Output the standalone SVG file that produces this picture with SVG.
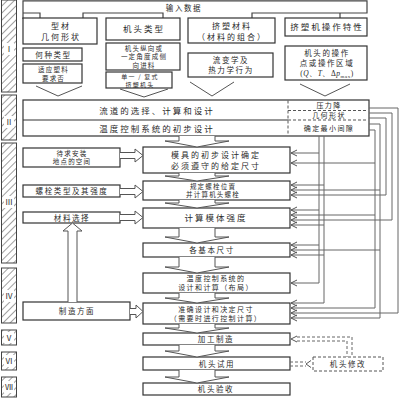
<svg xmlns="http://www.w3.org/2000/svg" width="400" height="400" viewBox="0 0 400 400">
<style>
.box{fill:#fff;stroke:#333;stroke-width:1.2}
.dbox{fill:none;stroke:#555;stroke-width:1;stroke-dasharray:3 2}
.bar{fill:url(#hatch);stroke:#444;stroke-width:1}
.lbl{fill:#fff;stroke:none}
.t{font-family:"Noto Sans CJK SC","Noto Sans CJK JP",sans-serif;font-size:8.5px;fill:#2a2a2a;text-anchor:middle;letter-spacing:2px}
.m{font-size:8px;letter-spacing:2px}
.s{font-size:7.5px;letter-spacing:1.6px}
.xs{font-size:7px;letter-spacing:1.4px}
.xxs{font-size:6.5px;letter-spacing:1.2px}
.x6{font-size:6px;letter-spacing:1.2px}
.r{font-family:"Noto Sans CJK SC",sans-serif;font-size:8px;fill:#333;text-anchor:middle}
.ln{fill:none;stroke:#666;stroke-width:1}
.ha{fill:#fff;stroke:#555;stroke-width:1}
.ah{fill:none;stroke:#555;stroke-width:1}
.dl{fill:none;stroke:#666;stroke-width:1;stroke-dasharray:3 2}
</style>
<defs>
<pattern id="hatch" width="5" height="5" patternUnits="userSpaceOnUse" patternTransform="rotate(45)">
<rect width="5" height="5" fill="#fff"/>
<line x1="0" y1="0" x2="0" y2="5" stroke="#888" stroke-width="1.6"/>
</pattern>
</defs>
<rect width="400" height="400" fill="#fff"/>

<g id="stages">
<rect class="bar" x="1.5" y="0" width="15" height="92"/><rect class="lbl" x="4" y="43" width="10" height="12"/><text class="r" x="9" y="52">Ⅰ</text>
<rect class="bar" x="1.5" y="95" width="15" height="45"/><rect class="lbl" x="4" y="116" width="10" height="12"/><text class="r" x="9" y="125">Ⅱ</text>
<rect class="bar" x="1.5" y="143" width="15" height="120"/><rect class="lbl" x="4" y="196" width="10" height="12"/><text class="r" x="9" y="205">Ⅲ</text>
<rect class="bar" x="1.5" y="268" width="15" height="55"/><rect class="lbl" x="4" y="290" width="10" height="12"/><text class="r" x="9" y="299">Ⅳ</text>
<rect class="bar" x="1.5" y="330" width="15" height="15"/><rect class="lbl" x="4" y="332" width="10" height="11"/><text class="r" x="9" y="341">Ⅴ</text>
<rect class="bar" x="1.5" y="352" width="15" height="18"/><rect class="lbl" x="4" y="355" width="10" height="12"/><text class="r" x="9" y="364">Ⅵ</text>
<rect class="bar" x="1.5" y="377" width="15" height="20"/><rect class="lbl" x="4" y="381" width="10" height="12"/><text class="r" x="9" y="390">Ⅶ</text>
</g>

<g id="input">
<path class="ln" style="stroke:#444;stroke-width:1.2" d="M23,19 V0.8 H367 V13 H340 V19 M40,19 V13 H23 M83,19 V13 H163 V19 M252,19 V13 H340"/>
<text class="t s" x="184" y="10.5">输入数据</text>
</g>

<g id="col1">
<rect class="box" x="23" y="18" width="74" height="26"/>
<text class="t m" x="61" y="28.5">型材<tspan x="61" dy="11">几何形状</tspan></text>
<rect class="box" x="23" y="48" width="59" height="13"/>
<text class="t s" x="53.5" y="57.5">何种类型</text>
<rect class="box" x="23" y="64" width="59" height="19"/>
<text class="t xxs" x="53.5" y="72">适应塑料<tspan x="53.5" dy="8.5">要求否</tspan></text>
</g>
<g id="col2">
<rect class="box" x="106" y="18" width="74" height="22"/>
<text class="t" x="144" y="32">机头类型</text>
<rect class="box" x="106" y="43" width="74" height="27"/>
<text class="t xxs" x="144" y="50.5">机头纵向或<tspan x="144" dy="8.5">一定角度成侧</tspan><tspan x="144" dy="8.5">向进料</tspan></text>
<rect class="box" x="106" y="72" width="66" height="16"/>
<text class="t x6" x="140" y="79">单一 / 复式<tspan x="140" dy="8">挤塑机头</tspan></text>
</g>
<g id="col3">
<rect class="box" x="188" y="18" width="87" height="25"/>
<text class="t m" x="232" y="29">挤塑材料<tspan x="232" dy="10.5">（材料的组合）</tspan></text>
<rect class="box" x="188" y="53" width="85" height="24"/>
<text class="t s" x="231" y="63">流变学及<tspan x="231" dy="10">热力学行为</tspan></text>
</g>
<g id="col4">
<rect class="box" x="285" y="18" width="82" height="18"/>
<text class="t" x="327" y="30">挤塑机操作特性</text>
<rect class="box" x="285" y="46" width="82" height="34"/>
<text class="t s" x="327" y="56">机头的操作<tspan x="327" dy="10">点或操作区域</tspan><tspan x="327" dy="10" style="font-family:'Liberation Serif',serif;font-size:7.5px;letter-spacing:0.5px">(<tspan font-style="italic">Q</tspan>、<tspan font-style="italic">T</tspan>、Δ<tspan font-style="italic">p</tspan><tspan font-size="5" dy="2">max</tspan><tspan dy="-2">)</tspan></tspan></text>
</g>

<g id="stage2">
<rect class="box" x="23" y="100" width="346" height="36"/>
<line x1="23" y1="120" x2="288" y2="120" stroke="#333" stroke-width="1.2"/>
<text class="t" x="157" y="113.5">流道的选择、计算和设计</text>
<text class="t" x="157" y="131.5">温度控制系统的初步设计</text>
</g>
<g id="pressure">
<path class="dbox" d="M288,100.5 V135.5 M288,110.5 H368 M288,120 H368"/>
<text class="t xs" x="329" y="108">压力降<tspan x="329" dy="10">几何形状</tspan></text>
<text class="t xs" x="329" y="130.5">确定最小间隙</text>
</g>

<g id="left">
<rect class="box" x="23" y="148" width="97" height="19"/>
<text class="t xxs" x="72" y="155.5">待求安装<tspan x="72" dy="8.5">地点的空间</tspan></text>
<rect class="box" x="23" y="185" width="97" height="12"/>
<text class="t s" x="72" y="194">螺栓类型及其强度</text>
<rect class="box" x="23" y="212" width="97" height="11"/>
<text class="t s" x="72" y="220.5">材料选择</text>
<rect class="box" x="23" y="302" width="107" height="18"/>
<text class="t s" x="77" y="314">制造方面</text>
</g>

<g id="main">
<rect class="box" x="143" y="147" width="147" height="26"/>
<text class="t m" x="216" y="158">模具的初步设计确定<tspan x="216" dy="10.5">必须遵守的给定尺寸</tspan></text>
<rect class="box" x="143" y="181" width="147" height="19"/>
<text class="t xxs" x="213" y="188.5">规定螺栓位置<tspan x="213" dy="8.5">并计算机头螺栓</tspan></text>
<rect class="box" x="143" y="208" width="147" height="20"/>
<text class="t" x="216" y="221">计算模体强度</text>
<rect class="box" x="143" y="243" width="147" height="14"/>
<text class="t s" x="212" y="253">各基本尺寸</text>
<rect class="box" x="143" y="273" width="147" height="20"/>
<text class="t xs" x="216" y="281">温度控制系统的<tspan x="216" dy="9.2">设计和计算（布局）</tspan></text>
<rect class="box" x="143" y="303" width="147" height="21"/>
<text class="t xs" x="216" y="311.5">准确设计和决定尺寸<tspan x="216" dy="9.2">（需要时进行控制计算）</tspan></text>
<rect class="box" x="143" y="333" width="147" height="12"/>
<text class="t s" x="216" y="342">加工制造</text>
<rect class="box" x="143" y="357" width="147" height="13"/>
<text class="t s" x="217" y="366.5">机头试用</text>
<rect class="box" x="143" y="383" width="147" height="12"/>
<text class="t s" x="216" y="392">机头验收</text>
</g>

<g id="modify">
<rect class="dbox" x="313" y="357" width="70" height="14"/>
<text class="t s" x="348" y="367">机头修改</text>
</g>

<g id="connectors">
<path class="ah" d="M36,86 L58,96 L82,86 M120,89 L144,97 L168,89 M190,82 L212,96 L234,82 M300,84 L325,96 L350,84"/>
<path class="ha" d="M179,136 V141 H165 L197,147 L229,141 H215 V136"/>
<path class="ha" d="M179,173 V176 H165 L197,181 L229,176 H215 V173"/>
<path class="ha" d="M179,200 V203 H165 L197,208 L229,203 H215 V200"/>
<path class="ha" d="M179,228 V237 H165 L197,243 L229,237 H215 V228"/>
<path class="ha" d="M179,257 V267 H165 L197,273 L229,267 H215 V257"/>
<path class="ha" d="M179,293 V298 H165 L197,303 L229,298 H215 V293"/>
<path class="ha" d="M179,324 V328 H165 L197,333 L229,328 H215 V324"/>
<path class="ha" d="M179,345 V351 H165 L197,357 L229,351 H215 V345"/>
<path class="ha" d="M179,370 V377 H165 L197,383 L229,377 H215 V370"/>
<path class="ha" d="M120,152.5 H135 V149 L143,155.5 L135,162 V158.5 H120"/>
<path class="ha" d="M120,188.5 H135 V185 L143,191.5 L135,198 V194.5 H120"/>
<path class="ha" d="M120,214.5 H135 V211 L143,217.5 L135,224 V220.5 H120"/>
<path class="ha" d="M130,308.5 H136 V305 L143,311.5 L136,318 V314.5 H130"/>
<path class="ha" d="M68,302 V231 H63 L72.5,223 L82,231 H77 V302"/>
<path class="ln" d="M319,136 V283 M324,136 V303
M369,130 H375 V308 M369,124 H380 V318 M369,118 H386 V195 M369,113 H392 V220 M369,108 H398 V313
M291,153 H319 M291,210 H319 M291,245 H319 M291,283 H319
M291,185 H324 M291,225 H324 M291,255 H324 M291,303 H324
M291,163 H375 M291,215 H375 M291,308 H375
M291,190 H380 M291,250 H380 M291,318 H380
M291,195 H386 M291,220 H392 M291,313 H398"/>
<path class="ah" d="M297,150 L291,153 L297,156 M297,160 L291,163 L297,166
M297,182 L291,185 L297,188 M297,187 L291,190 L297,193 M297,192 L291,195 L297,198
M297,207 L291,210 L297,213 M297,212 L291,215 L297,218 M297,217 L291,220 L297,223 M297,222 L291,225 L297,228
M297,242 L291,245 L297,248 M297,247 L291,250 L297,253 M297,252 L291,255 L297,258
M297,280 L291,283 L297,286
M297,300 L291,303 L297,306 M297,305 L291,308 L297,311 M297,310 L291,313 L297,316 M297,315 L291,318 L297,321"/>
<path class="dl" d="M297,337 H352 V357 M297,341 H347 V357 M290,362 H306 M290,366 H306"/>
<path class="ah" d="M297,336 L291,339 L297,342 M311,360.5 L306,364 L311,367.5"/>
</g>
</svg>
